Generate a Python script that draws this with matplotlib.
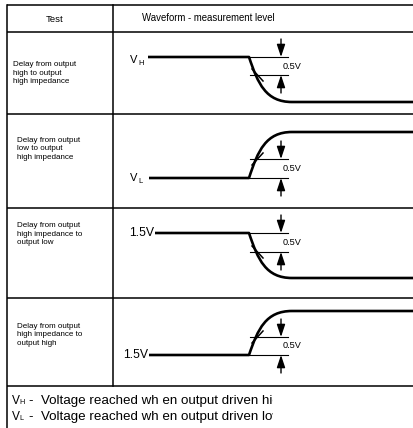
import matplotlib.pyplot as plt
from matplotlib.path import Path
from matplotlib.patches import PathPatch
from matplotlib.transforms import Bbox, TransformedBbox

plt.rcParams["font.family"] = ["Liberation Sans", "DejaVu Sans"]

# table content
header = ["Test", "Waveform - measurement level"]
tests = [
    "Delay from output\nhigh to output\nhigh impedance",
    "Delay from output\nlow to output\nhigh impedance",
    "Delay from output\nhigh impedance to\noutput low",
    "Delay from output\nhigh impedance to\noutput high",
]
start_labels = [("V", "H"), ("V", "L"), ("1.5V", ""), ("1.5V", "")]
edges = ["fall", "rise", "fall", "rise"]
step_label = "0.5V"
notes = [("V", "H", "-  Voltage reached wh en output driven high"),
         ("V", "L", "-  Voltage reached wh en output driven low")]

# waveform levels per row (pixel rows of the drawing)
row_lines = [5, 32, 114, 208, 298, 386]
high_y = [57, 132, 233, 311]
low_y = [102, 178, 278, 355]
ref_top = [57, 159, 233, 337]
ref_bot = [75, 178, 252, 355]
line_start = [148, 149, 155, 149]
text_x = [13, 17, 17, 17]
text_y = [73, 149, 234, 335]

W, H = 413, 428
fig = plt.figure(figsize=(W / 100, H / 100), dpi=100)
fig.patch.set_facecolor("white")
ax = fig.add_axes([0, 0, 1, 1])
ax.set_xlim(0, W)
ax.set_ylim(H, 0)
ax.axis("off")

lw_table = 1.1
x_left, x_div = 7, 113

# table frame
for y in row_lines:
    ax.plot([x_left, W], [y, y], color="black", lw=lw_table, solid_capstyle="butt")
ax.plot([x_left, x_left], [row_lines[0], H], color="black", lw=lw_table)
ax.plot([x_div, x_div], [row_lines[0], row_lines[-1]], color="black", lw=lw_table)

ax.text(55, 19, header[0], fontsize=6.8, ha="center", va="center")
ax.text(142, 18, header[1], fontsize=6.9, ha="left", va="center")


def tick_arrow(x, y0, y1):
    ax.annotate("", xy=(x, y1), xytext=(x, y0),
                arrowprops=dict(arrowstyle="-|>,head_width=0.25,head_length=0.75",
                                color="black", lw=1.0, shrinkA=0, shrinkB=0))


x0, x1 = 249, 292
for i in range(4):
    ax.text(text_x[i], text_y[i], tests[i],
            fontsize=5.8, ha="left", va="center", linespacing=1.3)

    hi, lo = high_y[i], low_y[i]
    if edges[i] == "fall":
        a, b = hi, lo
    else:
        a, b = lo, hi
    verts = [(line_start[i], a), (x0, a),
             (x0 + 9, a + 0.6 * (b - a)), (x0 + 17, b), (x1, b),
             (W, b)]
    codes = [Path.MOVETO, Path.LINETO, Path.CURVE4, Path.CURVE4, Path.CURVE4, Path.LINETO]
    ax.add_patch(PathPatch(Path(verts, codes), fill=False, lw=1.9, color="black",
                           capstyle="butt", joinstyle="round"))

    # reference levels
    ax.plot([x0 + 1, 288], [ref_top[i], ref_top[i]], color="black", lw=0.8)
    ax.plot([x0 + 1, 288], [ref_bot[i], ref_bot[i]], color="black", lw=0.8)
    tick_arrow(281, ref_top[i] - 18, ref_top[i])
    tick_arrow(281, ref_bot[i] + 18, ref_bot[i])
    ax.text(283, (ref_top[i] + ref_bot[i]) / 2, step_label, fontsize=6.6,
            ha="left", va="center")

    # crossing mark on the edge
    cy = ref_bot[i] if edges[i] == "fall" else ref_top[i]
    ys = [cy - 6, cy + 6] if edges[i] == "fall" else [cy + 6, cy - 6]
    ax.plot([252, 263], ys, color="black", lw=1.1)

    main, sub = start_labels[i]
    if sub:
        vy = a + 3 if i == 0 else a
        ax.text(130, vy, main, fontsize=8.0, ha="left", va="center")
        ax.text(138.5, vy + 3, sub, fontsize=5.5, ha="left", va="center")
    else:
        ax.text(line_start[i] - 1, a, main, fontsize=8.8, ha="right", va="center")

# footnote is cut off at the right, as in the scan
clip = TransformedBbox(Bbox.from_extents(0, 0, 273 / W, 42 / H), fig.transFigure)
for j, (m, s, rest) in enumerate(notes):
    y = 401 + j * 16
    ax.text(12, y, m, fontsize=8.6, ha="left", va="center")
    ax.text(19, y + 1.5, s, fontsize=5.2, ha="left", va="center")
    t = ax.text(29, y, rest, fontsize=9.6, ha="left", va="center", clip_on=True)
    t.set_clip_box(clip)

fig.savefig("out.png", dpi=100, facecolor="white")
